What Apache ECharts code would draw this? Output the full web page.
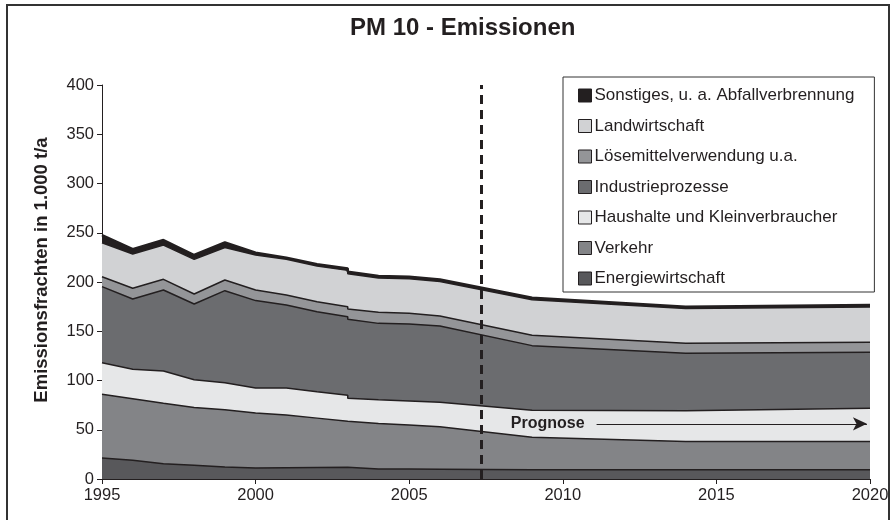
<!DOCTYPE html>
<html>
<head>
<meta charset="utf-8">
<title>PM 10 - Emissionen</title>
<script src="https://cdn.jsdelivr.net/npm/echarts@6/dist/echarts.min.js"></script>
<style>
html, body { margin: 0; padding: 0; background: #fff; }
#chart { width: 896px; height: 520px; }
</style>
</head>
<body>
<div id="chart"></div>
<script>
// Jahre (2003 doppelt: Bruch in der Zeitreihe)
var years = [1995, 1996, 1997, 1998, 1999, 2000, 2001, 2002, 2003, 2003, 2004, 2005, 2006, 2009, 2014, 2020];

// Emissionen in 1.000 t/a, je Quellgruppe
var energiewirtschaft = [21.4, 19.0, 15.6, 13.9, 12.2, 11.2, 11.5, 11.8, 12.0, 10.5, 10.2, 10.1, 10.0, 9.5, 9.5, 9.5];
var verkehr = [64.7, 62.4, 61.2, 58.7, 58.2, 55.8, 53.4, 50.0, 46.6, 47.9, 46.2, 44.7, 43.0, 33.0, 28.6, 28.6];
var haushalte = [31.9, 30.0, 32.8, 28.2, 27.4, 25.3, 27.4, 26.7, 26.4, 23.6, 24.0, 24.4, 25.0, 27.3, 31.1, 33.8];
var industrie = [77.3, 71.4, 82.3, 76.9, 93.4, 88.8, 84.4, 81.4, 79.7, 80.1, 77.6, 78.1, 77.3, 65.6, 58.4, 56.7];
var loesemittel = [10.1, 10.8, 10.8, 10.1, 10.8, 10.8, 10.1, 10.1, 10.2, 10.4, 11.2, 10.9, 10.1, 10.6, 10.2, 10.2];
var landwirtschaft = [34.5, 34.8, 34.8, 35.2, 33.1, 35.5, 36.2, 36.2, 36.9, 35.8, 34.8, 35.1, 35.2, 36.0, 35.2, 35.8];
var sonstiges = [7.7, 5.0, 5.1, 4.4, 5.1, 2.3, 1.7, 1.8, 2.0, 2.0, 2.0, 2.0, 2.0, 2.0, 2.0, 2.0];

var prognoseStart = 2007.35;   // gestrichelte Linie
var prognoseArrow = [2011.1, 2019.9, 56];

// von unten nach oben
var names = ['Energiewirtschaft', 'Verkehr', 'Haushalte und Kleinverbraucher', 'Industrieprozesse',
    'Lösemittelverwendung u.a.', 'Landwirtschaft', 'Sonstiges, u. a. Abfallverbrennung'];
var values = [energiewirtschaft, verkehr, haushalte, industrie, loesemittel, landwirtschaft, sonstiges];
var fills = ['#58585b', '#838487', '#e6e7e8', '#6b6c6f', '#949598', '#d1d2d4', '#231f20'];

var ink = '#231f20';
var font = '"Liberation Sans", Arial, sans-serif';

// aufsummierte Werte (Flächen werden von oben nach unten übereinander gezeichnet)
var sums = [];
var running = years.map(function () { return 0; });
for (var k = 0; k < values.length; k++) {
    running = running.map(function (v, i) { return v + values[k][i]; });
    sums.push(running.slice());
}

function pairs(vals) {
    var out = [];
    for (var i = 0; i < years.length; i++) {
        out.push([years[i], +vals[i].toFixed(2)]);
    }
    return out;
}

var series = [];
for (var j = names.length - 1; j >= 0; j--) {
    series.push({
        name: names[j],
        type: 'line',
        symbol: 'none',
        data: pairs(sums[j]),
        itemStyle: {color: fills[j]},
        lineStyle: {color: ink, width: j === names.length - 1 ? 2.5 : 1.5},
        areaStyle: {color: fills[j], opacity: 1, origin: 'start'},
        emphasis: {disabled: true}
    });
}

// Markierungen an der untersten (zuletzt gezeichneten) Serie
series[series.length - 1].markLine = {
    silent: true,
    animation: false,
    data: [
        [{coord: [prognoseStart, 0], symbol: 'none'},
         {coord: [prognoseStart, 400], symbol: 'none',
          lineStyle: {type: [9, 6], width: 3, color: ink}, label: {show: false}}],
        [{coord: [prognoseArrow[0], prognoseArrow[2]], symbol: 'none'},
         {coord: [prognoseArrow[1], prognoseArrow[2]], symbol: 'arrow', symbolSize: [10, 14],
          lineStyle: {type: 'solid', width: 1, color: ink},
          label: {show: true, position: 'start', formatter: 'Prognose', distance: 12,
                  fontFamily: font, fontSize: 16, fontWeight: 'bold', color: ink}}]
    ]
};

var option = {
    animation: false,
    textStyle: {fontFamily: font, color: ink},
    title: {
        text: 'PM 10 - Emissionen',
        left: 350,
        top: 16,
        padding: 0,
        textStyle: {fontFamily: font, fontSize: 24, fontWeight: 'bold', color: ink}
    },
    graphic: [{
        type: 'rect',
        shape: {x: 7, y: 5, width: 882, height: 530},
        style: {fill: 'none', stroke: '#333', lineWidth: 2},
        silent: true
    }],
    legend: {
        orient: 'vertical',
        left: 563,
        top: 77,
        padding: [10, 20, 5, 15],
        itemGap: 13.5,
        itemWidth: 13,
        itemHeight: 13,
        icon: 'rect',
        borderColor: '#333',
        borderWidth: 1,
        selectedMode: false,
        itemStyle: {borderColor: ink, borderWidth: 1},
        textStyle: {fontFamily: font, fontSize: 17, color: ink, padding: [0, 0, 0, -2]},
        data: names.slice().reverse()
    },
    grid: {left: 102, right: 26, top: 85, bottom: 41},
    xAxis: {
        type: 'value',
        min: 1995,
        max: 2020,
        interval: 5,
        axisLine: {lineStyle: {color: ink, width: 1}},
        axisTick: {show: true, length: 5, lineStyle: {color: ink}},
        axisLabel: {fontFamily: font, fontSize: 16.5, color: ink, margin: 8,
                    formatter: function (v) { return String(v); }},
        splitLine: {show: false}
    },
    yAxis: {
        type: 'value',
        min: 0,
        max: 400,
        interval: 50,
        name: 'Emissionsfrachten in 1.000 t/a',
        nameLocation: 'middle',
        nameGap: 51,
        nameTextStyle: {fontFamily: font, fontSize: 18.5, fontWeight: 'bold', color: ink,
                        padding: [0, 0, 0, 24]},
        axisLine: {show: true, lineStyle: {color: ink, width: 1}},
        axisTick: {show: true, length: 5, lineStyle: {color: ink}},
        axisLabel: {fontFamily: font, fontSize: 16.5, color: ink, margin: 8},
        splitLine: {show: false}
    },
    series: series
};

var myChart = echarts.init(document.getElementById('chart'));
myChart.setOption(option);
</script>
</body>
</html>
